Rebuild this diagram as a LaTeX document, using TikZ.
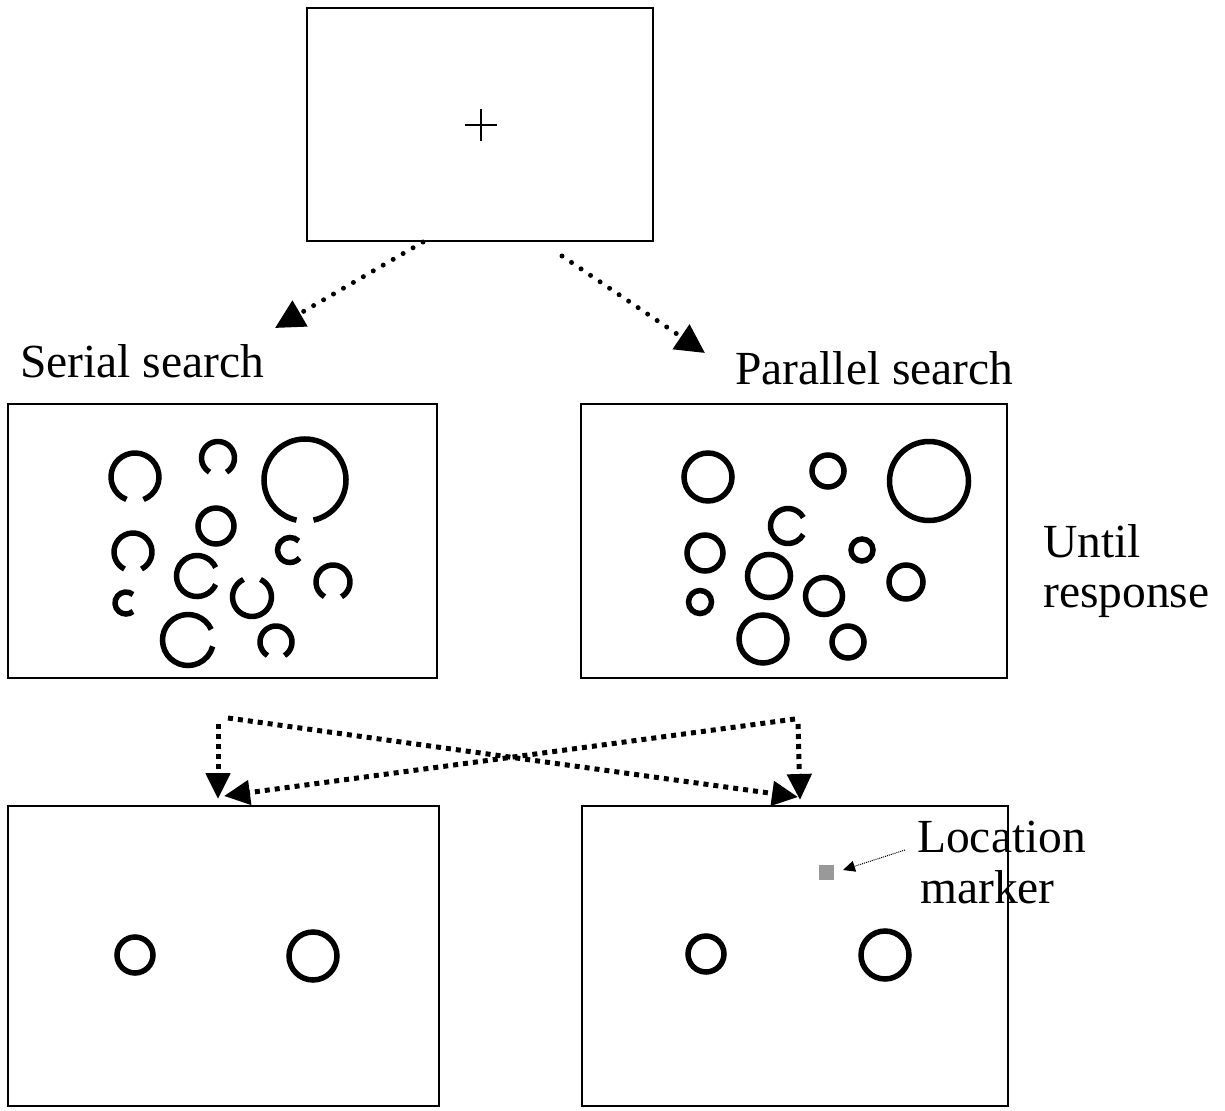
\documentclass[tikz,border=0pt]{standalone}
\usepackage{fontspec}
\setmainfont{Liberation Serif}
\usetikzlibrary{arrows.meta}
\definecolor{markergray}{HTML}{999999}
\newcommand\gapring[4]{\draw[ring] ({#1+#3*cos(#4+asin(8.5/#3))},{#2+#3*sin(#4+asin(8.5/#3))}) arc[start angle={#4+asin(8.5/#3)}, delta angle={360-2*asin(8.5/#3)}, radius=#3];}
\newcommand\fullring[3]{\draw[ring] (#1,#2) circle[radius=#3];}
\begin{document}
\begin{tikzpicture}[x=1pt,y=1pt,
  panel/.style={draw, line width=1.6pt, inner sep=0pt},
  ring/.style={line width=5.5pt},
  dotlink/.style={line width=5pt, dash pattern=on 0pt off 11.5pt, line cap=round, -{Triangle[length=29pt,width=29pt]}},
  dashlink/.style={line width=5pt, dash pattern=on 5pt off 5pt, -{Triangle[length=26pt,width=24pt]}},
  finelink/.style={line width=1pt, dash pattern=on 1pt off 1pt, -{Triangle[length=12pt,width=11pt]}},
  lbl/.style={anchor=base west, inner sep=0pt, font=\fontsize{47.5}{50}\selectfont}]
\useasboundingbox (0,0) rectangle (1225,-1110);
% panels
\node[panel, minimum width=346, minimum height=233] (fix) at (480,-124.5) {};
\node[panel, minimum width=429, minimum height=274] (serial) at (222.5,-541) {};
\node[panel, minimum width=426, minimum height=274] (parallel) at (794,-541) {};
\node[panel, minimum width=431, minimum height=300] (bl) at (223.5,-956) {};
\node[panel, minimum width=426, minimum height=300] (br) at (795,-956) {};
% fixation cross
\draw[line width=1.3pt] (465,-125) -- (497,-125) (481,-109) -- (481,-141);
% labels
\node[lbl] (tser) at (20,-377) {Serial search};
\node[lbl] (tpar) at (735,-384) {Parallel search};
\node[lbl] (tun) at (1043,-557) {Until};
\node[lbl] (tresp) at (1043,-607) {response};
\node[lbl] (tloc) at (917,-852) {Location};
\node[lbl] (tmark) at (920,-903) {marker};
% top connectors
\coordinate (a1) at (423,-242);
\coordinate (a1e) at (275,-328);
\coordinate (a2) at (562,-256);
\coordinate (a2e) at (705,-353);
\draw[dotlink] (a1) -- (a1e);
\draw[dotlink] (a2) -- (a2e);
% bottom connectors
\coordinate (b1) at (218,-724);
\coordinate (b1e) at (218,-799);
\coordinate (b2) at (228,-718);
\coordinate (b2e) at (798,-797);
\coordinate (b3) at (795,-719);
\coordinate (b3e) at (224,-796);
\coordinate (b4) at (798,-724);
\coordinate (b4e) at (800,-800);
\draw[dashlink] (b1) -- (b1e);
\draw[dashlink] (b2) -- (b2e);
\draw[dashlink] (b3) -- (b3e);
\draw[dashlink] (b4) -- (b4e);
% location marker
\node[fill=markergray, minimum size=15, inner sep=0pt] (mk) at (826,-872) {};
\coordinate (m1) at (905,-850);
\coordinate (m1e) at (843,-870);
\draw[finelink] (m1) -- (m1e);
% serial search display
\gapring{135}{-477}{24}{270}
\gapring{218}{-458}{16.5}{270}
\gapring{305}{-480}{41}{270}
\fullring{216}{-526}{18}
\gapring{133}{-552}{19}{270}
\gapring{290}{-550}{12.5}{3}
\gapring{197}{-576}{20.5}{0}
\gapring{333}{-582}{17}{270}
\gapring{126}{-603}{11}{0}
\gapring{252}{-597}{19.5}{90}
\gapring{188}{-640}{25.5}{5}
\gapring{276}{-642}{16}{270}
% parallel search display
\fullring{708}{-477}{24}
\fullring{828}{-471}{16}
\fullring{929}{-481}{39.5}
\gapring{788}{-526}{17.5}{0}
\fullring{705}{-553}{18}
\fullring{862}{-550}{11}
\fullring{769}{-576}{21.5}
\fullring{906}{-582}{17}
\fullring{700}{-602}{11.5}
\fullring{824}{-596}{18.5}
\fullring{763}{-639}{24}
\fullring{848}{-642}{16}
% bottom displays
\fullring{135}{-955}{18}
\fullring{313}{-956}{24}
\fullring{706}{-954}{18}
\fullring{885}{-955}{24}
\end{tikzpicture}
\end{document}
